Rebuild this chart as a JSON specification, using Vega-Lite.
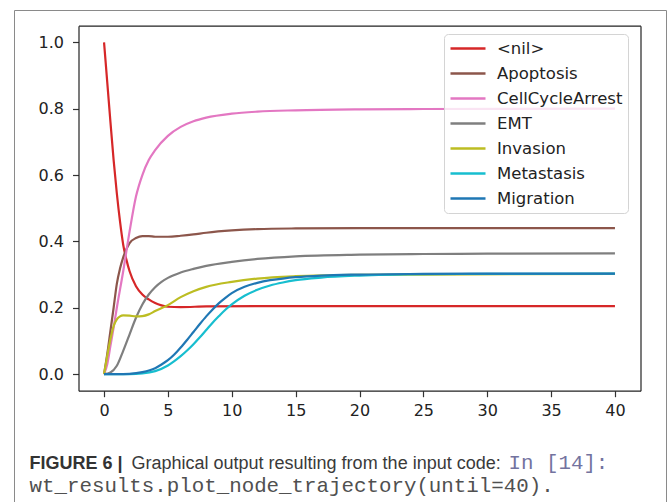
{
  "$schema": "https://vega.github.io/schema/vega-lite/v6.json",
  "width": 652,
  "height": 492,
  "autosize": {"type": "none"},
  "padding": {"left": 14, "top": 10, "right": 3, "bottom": 0},
  "background": "white",
  "config": {
    "view": {"stroke": "#8a8a8a", "strokeWidth": 1},
    "axis": {"grid": false, "labelOverlap": false, "labelFlush": false}
  },
  "data": {
    "values": [
      {"node": "<nil>", "t": 0, "v": 1.0},
      {"node": "<nil>", "t": 0.25, "v": 0.88},
      {"node": "<nil>", "t": 0.5, "v": 0.76},
      {"node": "<nil>", "t": 0.75, "v": 0.645},
      {"node": "<nil>", "t": 1, "v": 0.545},
      {"node": "<nil>", "t": 1.25, "v": 0.46},
      {"node": "<nil>", "t": 1.5, "v": 0.39},
      {"node": "<nil>", "t": 1.75, "v": 0.345},
      {"node": "<nil>", "t": 2, "v": 0.31},
      {"node": "<nil>", "t": 2.5, "v": 0.265},
      {"node": "<nil>", "t": 3, "v": 0.24},
      {"node": "<nil>", "t": 3.5, "v": 0.225},
      {"node": "<nil>", "t": 4, "v": 0.214},
      {"node": "<nil>", "t": 4.5, "v": 0.207},
      {"node": "<nil>", "t": 5, "v": 0.203},
      {"node": "<nil>", "t": 6, "v": 0.202},
      {"node": "<nil>", "t": 8, "v": 0.204},
      {"node": "<nil>", "t": 12, "v": 0.205},
      {"node": "<nil>", "t": 20, "v": 0.205},
      {"node": "<nil>", "t": 30, "v": 0.205},
      {"node": "<nil>", "t": 40, "v": 0.205},

      {"node": "Apoptosis", "t": 0, "v": 0.0},
      {"node": "Apoptosis", "t": 0.25, "v": 0.06},
      {"node": "Apoptosis", "t": 0.5, "v": 0.13},
      {"node": "Apoptosis", "t": 0.75, "v": 0.2},
      {"node": "Apoptosis", "t": 1, "v": 0.272},
      {"node": "Apoptosis", "t": 1.25, "v": 0.318},
      {"node": "Apoptosis", "t": 1.5, "v": 0.352},
      {"node": "Apoptosis", "t": 2, "v": 0.395},
      {"node": "Apoptosis", "t": 2.5, "v": 0.41},
      {"node": "Apoptosis", "t": 3, "v": 0.416},
      {"node": "Apoptosis", "t": 3.5, "v": 0.416},
      {"node": "Apoptosis", "t": 4, "v": 0.414},
      {"node": "Apoptosis", "t": 5, "v": 0.414},
      {"node": "Apoptosis", "t": 6, "v": 0.417},
      {"node": "Apoptosis", "t": 7, "v": 0.421},
      {"node": "Apoptosis", "t": 8, "v": 0.426},
      {"node": "Apoptosis", "t": 10, "v": 0.433},
      {"node": "Apoptosis", "t": 12, "v": 0.437},
      {"node": "Apoptosis", "t": 15, "v": 0.439},
      {"node": "Apoptosis", "t": 20, "v": 0.44},
      {"node": "Apoptosis", "t": 30, "v": 0.44},
      {"node": "Apoptosis", "t": 40, "v": 0.44},

      {"node": "CellCycleArrest", "t": 0, "v": 0.0},
      {"node": "CellCycleArrest", "t": 0.25, "v": 0.03},
      {"node": "CellCycleArrest", "t": 0.5, "v": 0.085},
      {"node": "CellCycleArrest", "t": 0.75, "v": 0.14},
      {"node": "CellCycleArrest", "t": 1, "v": 0.2},
      {"node": "CellCycleArrest", "t": 1.5, "v": 0.31},
      {"node": "CellCycleArrest", "t": 2, "v": 0.43},
      {"node": "CellCycleArrest", "t": 2.5, "v": 0.535},
      {"node": "CellCycleArrest", "t": 3, "v": 0.6},
      {"node": "CellCycleArrest", "t": 3.5, "v": 0.645},
      {"node": "CellCycleArrest", "t": 4, "v": 0.675},
      {"node": "CellCycleArrest", "t": 5, "v": 0.718},
      {"node": "CellCycleArrest", "t": 6, "v": 0.745},
      {"node": "CellCycleArrest", "t": 7, "v": 0.762},
      {"node": "CellCycleArrest", "t": 8, "v": 0.773},
      {"node": "CellCycleArrest", "t": 10, "v": 0.785},
      {"node": "CellCycleArrest", "t": 12, "v": 0.791},
      {"node": "CellCycleArrest", "t": 15, "v": 0.795},
      {"node": "CellCycleArrest", "t": 20, "v": 0.798},
      {"node": "CellCycleArrest", "t": 25, "v": 0.799},
      {"node": "CellCycleArrest", "t": 40, "v": 0.8},

      {"node": "EMT", "t": 0, "v": 0.0},
      {"node": "EMT", "t": 0.5, "v": 0.005},
      {"node": "EMT", "t": 1, "v": 0.025},
      {"node": "EMT", "t": 1.5, "v": 0.07},
      {"node": "EMT", "t": 2, "v": 0.12},
      {"node": "EMT", "t": 2.5, "v": 0.17},
      {"node": "EMT", "t": 3, "v": 0.21},
      {"node": "EMT", "t": 3.5, "v": 0.24},
      {"node": "EMT", "t": 4, "v": 0.262},
      {"node": "EMT", "t": 4.5, "v": 0.278},
      {"node": "EMT", "t": 5, "v": 0.29},
      {"node": "EMT", "t": 6, "v": 0.306},
      {"node": "EMT", "t": 7, "v": 0.317},
      {"node": "EMT", "t": 8, "v": 0.326},
      {"node": "EMT", "t": 10, "v": 0.338},
      {"node": "EMT", "t": 12, "v": 0.347},
      {"node": "EMT", "t": 15, "v": 0.355},
      {"node": "EMT", "t": 20, "v": 0.36},
      {"node": "EMT", "t": 25, "v": 0.362},
      {"node": "EMT", "t": 30, "v": 0.363},
      {"node": "EMT", "t": 40, "v": 0.364},

      {"node": "Invasion", "t": 0, "v": 0.0},
      {"node": "Invasion", "t": 0.25, "v": 0.055},
      {"node": "Invasion", "t": 0.5, "v": 0.105},
      {"node": "Invasion", "t": 0.75, "v": 0.145},
      {"node": "Invasion", "t": 1, "v": 0.165},
      {"node": "Invasion", "t": 1.25, "v": 0.174},
      {"node": "Invasion", "t": 1.5, "v": 0.177},
      {"node": "Invasion", "t": 2, "v": 0.176},
      {"node": "Invasion", "t": 2.5, "v": 0.174},
      {"node": "Invasion", "t": 3, "v": 0.175},
      {"node": "Invasion", "t": 3.5, "v": 0.18},
      {"node": "Invasion", "t": 4, "v": 0.19},
      {"node": "Invasion", "t": 5, "v": 0.208},
      {"node": "Invasion", "t": 6, "v": 0.232},
      {"node": "Invasion", "t": 7, "v": 0.25},
      {"node": "Invasion", "t": 8, "v": 0.263},
      {"node": "Invasion", "t": 10, "v": 0.278},
      {"node": "Invasion", "t": 12, "v": 0.288},
      {"node": "Invasion", "t": 15, "v": 0.295},
      {"node": "Invasion", "t": 20, "v": 0.299},
      {"node": "Invasion", "t": 25, "v": 0.3},
      {"node": "Invasion", "t": 40, "v": 0.302},

      {"node": "Metastasis", "t": 0, "v": 0.0},
      {"node": "Metastasis", "t": 2, "v": 0.0},
      {"node": "Metastasis", "t": 3, "v": 0.002},
      {"node": "Metastasis", "t": 4, "v": 0.009},
      {"node": "Metastasis", "t": 5, "v": 0.026},
      {"node": "Metastasis", "t": 5.5, "v": 0.039},
      {"node": "Metastasis", "t": 6, "v": 0.054},
      {"node": "Metastasis", "t": 6.5, "v": 0.071},
      {"node": "Metastasis", "t": 7, "v": 0.09},
      {"node": "Metastasis", "t": 7.5, "v": 0.111},
      {"node": "Metastasis", "t": 8, "v": 0.133},
      {"node": "Metastasis", "t": 8.5, "v": 0.155},
      {"node": "Metastasis", "t": 9, "v": 0.175},
      {"node": "Metastasis", "t": 9.5, "v": 0.194},
      {"node": "Metastasis", "t": 10, "v": 0.21},
      {"node": "Metastasis", "t": 11, "v": 0.236},
      {"node": "Metastasis", "t": 12, "v": 0.254},
      {"node": "Metastasis", "t": 13, "v": 0.267},
      {"node": "Metastasis", "t": 14, "v": 0.276},
      {"node": "Metastasis", "t": 15, "v": 0.283},
      {"node": "Metastasis", "t": 17, "v": 0.291},
      {"node": "Metastasis", "t": 20, "v": 0.297},
      {"node": "Metastasis", "t": 25, "v": 0.301},
      {"node": "Metastasis", "t": 30, "v": 0.302},
      {"node": "Metastasis", "t": 40, "v": 0.303},

      {"node": "Migration", "t": 0, "v": 0.0},
      {"node": "Migration", "t": 1, "v": 0.0},
      {"node": "Migration", "t": 2, "v": 0.001},
      {"node": "Migration", "t": 3, "v": 0.006},
      {"node": "Migration", "t": 4, "v": 0.018},
      {"node": "Migration", "t": 4.5, "v": 0.029},
      {"node": "Migration", "t": 5, "v": 0.042},
      {"node": "Migration", "t": 5.5, "v": 0.059},
      {"node": "Migration", "t": 6, "v": 0.08},
      {"node": "Migration", "t": 6.5, "v": 0.103},
      {"node": "Migration", "t": 7, "v": 0.127},
      {"node": "Migration", "t": 7.5, "v": 0.151},
      {"node": "Migration", "t": 8, "v": 0.174},
      {"node": "Migration", "t": 8.5, "v": 0.195},
      {"node": "Migration", "t": 9, "v": 0.214},
      {"node": "Migration", "t": 9.5, "v": 0.23},
      {"node": "Migration", "t": 10, "v": 0.244},
      {"node": "Migration", "t": 11, "v": 0.263},
      {"node": "Migration", "t": 12, "v": 0.275},
      {"node": "Migration", "t": 13, "v": 0.283},
      {"node": "Migration", "t": 14, "v": 0.288},
      {"node": "Migration", "t": 15, "v": 0.292},
      {"node": "Migration", "t": 17, "v": 0.297},
      {"node": "Migration", "t": 20, "v": 0.3},
      {"node": "Migration", "t": 25, "v": 0.302},
      {"node": "Migration", "t": 30, "v": 0.303},
      {"node": "Migration", "t": 40, "v": 0.303}
    ]
  },
  "layer": [
    {
      "mark": {"type": "line", "interpolate": "monotone", "strokeWidth": 2.2},
      "encoding": {
        "x": {
          "field": "t", "type": "quantitative",
          "scale": {"domain": [-2, 42], "range": [64.5, 626.5], "nice": false, "zero": false},
          "axis": {
            "orient": "bottom", "offset": -111.3,
            "values": [0, 5, 10, 15, 20, 25, 30, 35, 40], "format": "d",
            "domainColor": "#222", "domainWidth": 1.2,
            "tickColor": "#333", "tickSize": 6, "tickWidth": 1.2,
            "labelFont": "DejaVu Sans", "labelFontSize": 16, "labelColor": "#222",
            "labelBaseline": "alphabetic", "labelPadding": 19,
            "title": "FIGURE 6 |", "titleFont": "Liberation Sans", "titleFontSize": 18,
            "titleFontWeight": "bold", "titleColor": "#333",
            "titleX": 15, "titleY": 77.3, "titleAlign": "left", "titleBaseline": "alphabetic", "titleAngle": 0
          }
        },
        "y": {
          "field": "v", "type": "quantitative",
          "scale": {"domain": [-0.05, 1.05], "range": [380.7, 15.7], "nice": false, "zero": false},
          "axis": {
            "orient": "left", "offset": -64.5,
            "values": [0, 0.2, 0.4, 0.6, 0.8, 1.0], "format": ".1f",
            "domainColor": "#222", "domainWidth": 1.2,
            "tickColor": "#333", "tickSize": 6, "tickWidth": 1.2,
            "labelFont": "DejaVu Sans", "labelFontSize": 16, "labelColor": "#222",
            "labelPadding": 9,
            "title": "Graphical output resulting from the input code:",
            "titleFont": "Liberation Sans", "titleFontSize": 18, "titleFontWeight": "normal",
            "titleColor": "#3a3a3a",
            "titleX": 52.5, "titleY": 458, "titleAlign": "left", "titleBaseline": "alphabetic", "titleAngle": 0
          }
        },
        "color": {
          "field": "node", "type": "nominal",
          "scale": {
            "domain": ["<nil>", "Apoptosis", "CellCycleArrest", "EMT", "Invasion", "Metastasis", "Migration"],
            "range": ["#d62728", "#8c564b", "#e377c2", "#7f7f7f", "#bcbd22", "#17becf", "#1f77b4"]
          },
          "legend": {
            "title": null, "orient": "none", "legendX": 430, "legendY": 24,
            "padding": 5, "strokeColor": "#d4d4d4", "fillColor": "rgba(255,255,255,0.8)", "cornerRadius": 4,
            "symbolType": "stroke", "symbolSize": 1225, "symbolStrokeWidth": 2.5,
            "clipHeight": 19, "rowPadding": 6, "labelOffset": 10,
            "labelFont": "DejaVu Sans", "labelFontSize": 16.5, "labelColor": "#222"
          }
        }
      }
    },
    {
      "mark": {"type": "point", "opacity": 0},
      "encoding": {
        "x": {
          "field": "t", "type": "quantitative",
          "axis": {
            "orient": "top", "offset": -15.7, "ticks": false, "labels": false,
            "domainColor": "#222", "domainWidth": 1.2,
            "title": "wt_results.plot_node_trajectory(until=40).",
            "titleFont": "Liberation Mono", "titleFontSize": 20.8, "titleFontWeight": "normal",
            "titleColor": "#505050",
            "titleX": 15, "titleY": 466, "titleAlign": "left", "titleBaseline": "alphabetic", "titleAngle": 0
          }
        },
        "y": {
          "field": "v", "type": "quantitative",
          "axis": {
            "orient": "right", "offset": -25.5, "ticks": false, "labels": false,
            "domainColor": "#222", "domainWidth": 1.2,
            "title": "In [14]:",
            "titleFont": "Liberation Mono", "titleFontSize": 20.8, "titleFontWeight": "normal",
            "titleColor": "#73739f",
            "titleX": -132.5, "titleY": 458, "titleAlign": "left", "titleBaseline": "alphabetic", "titleAngle": 0
          }
        }
      }
    }
  ],
  "resolve": {"axis": {"x": "independent", "y": "independent"}}
}
